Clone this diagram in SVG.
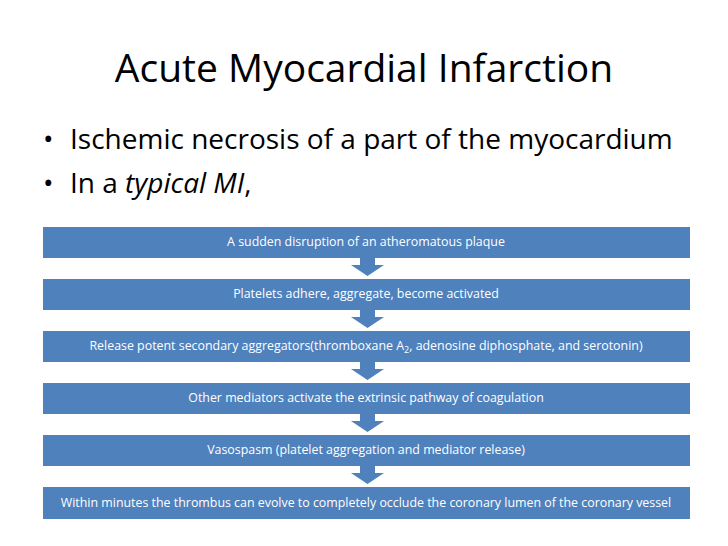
<svg xmlns="http://www.w3.org/2000/svg" width="728" height="546" viewBox="0 0 728 546">
<style>
.t{font-family:"Open Sans","Liberation Sans",sans-serif;fill:#000}
.b{fill:#4f81bd}
.bt{font-family:"Open Sans","Liberation Sans",sans-serif;fill:#fff;font-size:12.4px;text-anchor:middle}
.a{fill:#4f81bd}
</style>
<rect width="728" height="546" fill="#fff"/>
<text class="t" x="364" y="82" font-size="39" text-anchor="middle">Acute Myocardial Infarction</text>
<text class="t" x="43" y="149" font-size="28">•</text>
<text class="t" x="70" y="149" font-size="28">Ischemic necrosis of a part of the myocardium</text>
<text class="t" x="43" y="193" font-size="28">•</text>
<text class="t" x="70" y="193" font-size="28">In a <tspan font-style="italic">typical MI</tspan>,</text>
<g id="connectors">
<path class="a" d="M360 258h15v7h9l-16.5 11l-16.5-11h9z"/>
<path class="a" d="M360 310h15v7h9l-16.5 11l-16.5-11h9z"/>
<path class="a" d="M360 362h15v7h9l-16.5 11l-16.5-11h9z"/>
<path class="a" d="M360 414h15v7h9l-16.5 11l-16.5-11h9z"/>
<path class="a" d="M360 466h15v7h9l-16.5 11l-16.5-11h9z"/>
</g>
<g id="n1"><rect class="b" x="43" y="227" width="647" height="31"/><text class="bt" x="366" y="246">A sudden disruption of an atheromatous plaque</text></g>
<g id="n2"><rect class="b" x="43" y="279" width="647" height="31"/><text class="bt" x="366" y="298">Platelets adhere, aggregate, become activated</text></g>
<g id="n3"><rect class="b" x="43" y="331" width="647" height="31"/><text class="bt" x="366" y="350">Release potent secondary aggregators(thromboxane A<tspan font-size="9" dy="3">2</tspan><tspan dy="-3">, adenosine diphosphate, and serotonin)</tspan></text></g>
<g id="n4"><rect class="b" x="43" y="383" width="647" height="31"/><text class="bt" x="366" y="402">Other mediators activate the extrinsic pathway of coagulation</text></g>
<g id="n5"><rect class="b" x="43" y="435" width="647" height="31"/><text class="bt" x="366" y="454">Vasospasm (platelet aggregation and mediator release)</text></g>
<g id="n6"><rect class="b" x="43" y="487" width="647" height="32"/><text class="bt" x="366" y="507">Within minutes the thrombus can evolve to completely occlude the coronary lumen of the coronary vessel</text></g>
</svg>
